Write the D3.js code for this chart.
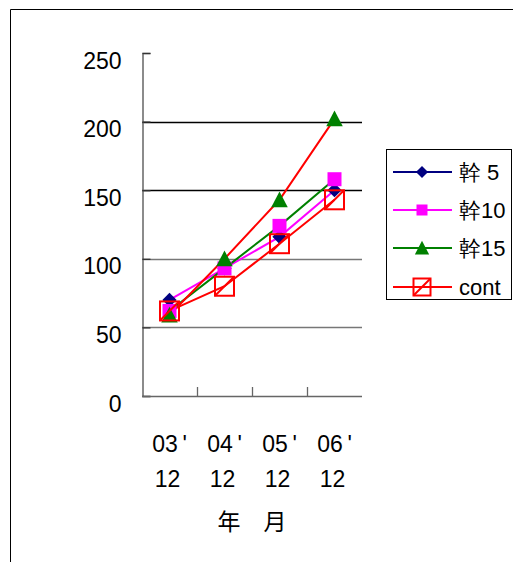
<!DOCTYPE html>
<html>
<head>
<meta charset="utf-8">
<script src="https://cdn.jsdelivr.net/npm/d3@7"></script>
<style>
  html, body { margin: 0; padding: 0; background: #fff; }
  svg { display: block; }
  text { font-family: "Liberation Sans", Arial, sans-serif; fill: #000; }
  .cjk { font-family: "Noto Sans CJK JP", "Noto Sans CJK SC", sans-serif; }
</style>
</head>
<body>
<script>
// Categories (year / month) and series values
const categories = ["03'|12", "04'|12", "05'|12", "06'|12"];
const seriesNames = ["幹 5", "幹10", "幹15", "cont"];
const kan5  = [70, 93, 116, 150];
const kan10 = [62, 93, 124, 158];
const kan15 = [59, 100, 143, 202];
const cont  = [62, 80, 111, 143];
const yTicks = [0, 50, 100, 150, 200, 250];

const seriesValues = [kan5, kan10, kan15, cont];
const markerColors = ["#000080", "#ff00ff", "#008000", "#ff0000"];
const lineColors   = ["#ff00ff", "#008000", "#ff0000", "#ff0000"];
const legendLineColors = ["#000080", "#ff00ff", "#008000", "#ff0000"];
const markerShapes = ["diamond", "square", "triangle", "boxslash"];

const W = 513, H = 562;
const svg = d3.select("body").append("svg").attr("width", W).attr("height", H);

// Outer frame (open to the right and bottom)
svg.append("path")
  .attr("d", `M10.5,${H} V9.5 H${W}`)
  .attr("fill", "none").attr("stroke", "#000").attr("stroke-width", 1);

const plot = { left: 142, right: 362, top: 53, bottom: 396 };

const x = d3.scaleBand().domain(categories).range([plot.left, plot.right]).paddingInner(0).paddingOuter(0);
const y = d3.scaleLinear().domain([0, 250]).range([plot.bottom, plot.top]);
const cx = c => x(c) + x.bandwidth() / 2;

const g = svg.append("g");

// Horizontal gridlines
g.selectAll("line.grid").data(yTicks.filter(v => v > 0 && v < 250)).enter()
  .append("line").attr("class", "grid")
  .attr("x1", plot.left).attr("x2", plot.right)
  .attr("y1", d => Math.round(y(d)) + 0.5).attr("y2", d => Math.round(y(d)) + 0.5)
  .attr("stroke", d => d >= 150 ? "#000" : "#777").attr("stroke-width", 1.3);

// Y axis: line, inward ticks, labels
const yAxis = d3.axisLeft(y).tickValues(yTicks).tickSize(-8).tickPadding(0).tickFormat(d3.format("d"));
const ya = g.append("g").attr("transform", `translate(${plot.left + 0.5},0)`).call(yAxis);
ya.select(".domain").attr("stroke", "#666").attr("stroke-width", 1.5);
ya.selectAll(".tick line").attr("stroke", "#333").attr("stroke-width", 1.3);
ya.selectAll(".tick text")
  .attr("x", -21).attr("dy", "0.35em").attr("y", 7)
  .style("font-size", "23px").style("font-family", "'Liberation Sans', Arial, sans-serif")
  .attr("text-anchor", "end").attr("fill", "#000");

// X axis: line and upward ticks at category boundaries
const xAxisG = g.append("g");
xAxisG.append("line")
  .attr("x1", plot.left).attr("x2", plot.right)
  .attr("y1", plot.bottom + 0.5).attr("y2", plot.bottom + 0.5)
  .attr("stroke", "#666").attr("stroke-width", 1.5);
xAxisG.selectAll("line.xt").data(categories.slice(1)).enter()
  .append("line").attr("class", "xt")
  .attr("x1", d => x(d) + 0.5).attr("x2", d => x(d) + 0.5)
  .attr("y1", plot.bottom).attr("y2", plot.bottom - 9)
  .attr("stroke", "#666").attr("stroke-width", 1.3);

// Category labels on two lines
const xl = g.selectAll("text.xl").data(categories).enter()
  .append("text").attr("class", "xl")
  .attr("text-anchor", "middle").style("font-size", "23px");
xl.append("tspan").attr("x", d => cx(d)).attr("y", 452)
  .text(d => d.split("|")[0].replace("'", "\u2009'"));
xl.append("tspan").attr("x", d => cx(d) - 2).attr("y", 487).text(d => d.split("|")[1]);

// Axis title
g.append("text").attr("class", "cjk")
  .attr("x", 252).attr("y", 530).attr("text-anchor", "middle")
  .style("font-size", "23px").text("年\u3000月");

// Series lines
const line = d3.line().x((d, i) => cx(categories[i])).y(d => y(d));
g.selectAll("path.series").data(seriesValues).enter()
  .append("path").attr("class", "series")
  .attr("d", d => line(d))
  .attr("fill", "none")
  .attr("stroke", (d, i) => lineColors[i])
  .attr("stroke-width", 2);

// Marker drawing
function drawMarker(sel, shape, color, size) {
  if (shape === "diamond") {
    const s = size * 0.55;
    sel.append("path").attr("d", `M0,${-s}L${s},0L0,${s}L${-s},0Z`).attr("fill", color);
  } else if (shape === "square") {
    const s = size * 0.5;
    sel.append("rect").attr("x", -s).attr("y", -s).attr("width", 2 * s).attr("height", 2 * s).attr("fill", color);
  } else if (shape === "triangle") {
    const s = size * 0.55;
    sel.append("path").attr("d", `M0,${-s}L${s},${s * 0.9}L${-s},${s * 0.9}Z`).attr("fill", color);
  } else if (shape === "boxslash") {
    const s = size * 0.5;
    sel.append("rect").attr("x", -s).attr("y", -s).attr("width", 2 * s).attr("height", 2 * s)
      .attr("fill", "none").attr("stroke", color).attr("stroke-width", 2);
    sel.append("line").attr("x1", -s).attr("y1", s).attr("x2", s).attr("y2", -s)
      .attr("stroke", color).attr("stroke-width", 2);
  }
}
const markerSizes = [13, 14, 15, 19];

seriesValues.forEach((vals, si) => {
  vals.forEach((v, i) => {
    const m = g.append("g").attr("transform", `translate(${cx(categories[i])},${y(v)})`);
    drawMarker(m, markerShapes[si], markerColors[si], markerSizes[si]);
  });
});

// Legend
const lg = svg.append("g");
lg.append("rect").attr("x", 386.5).attr("y", 149.5).attr("width", 125).attr("height", 150)
  .attr("fill", "#fff").attr("stroke", "#000").attr("stroke-width", 1);
const rowY = [172, 210, 248, 287];
const legendSizes = [11, 11, 13, 17];
seriesNames.forEach((name, i) => {
  const row = lg.append("g").attr("transform", `translate(0,${rowY[i]})`);
  row.append("line").attr("x1", 393).attr("x2", 452).attr("y1", 0).attr("y2", 0)
    .attr("stroke", legendLineColors[i]).attr("stroke-width", 2);
  const m = row.append("g").attr("transform", "translate(422,0)");
  drawMarker(m, markerShapes[i], markerColors[i], legendSizes[i]);
  row.append("text").attr("x", 459).attr("y", 0).attr("dy", "0.36em")
    .style("font-size", "22px")
    .text(name);
});
</script>
</body>
</html>
